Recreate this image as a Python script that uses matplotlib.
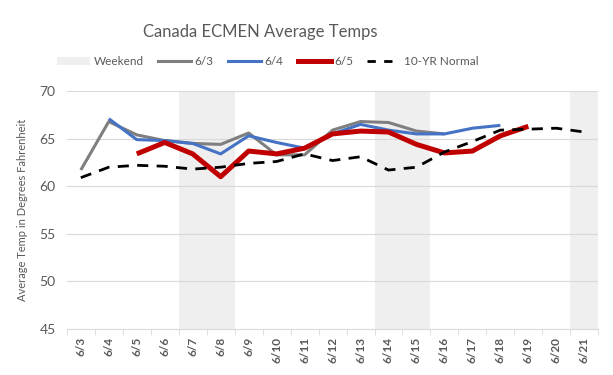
import matplotlib
matplotlib.use("Agg")
import matplotlib.pyplot as plt
from matplotlib.patches import Patch
from matplotlib.lines import Line2D
import numpy as np

plt.rcParams['font.family'] = ['Lato', 'DejaVu Sans']

dates = ["6/3", "6/4", "6/5", "6/6", "6/7", "6/8", "6/9", "6/10", "6/11", "6/12",
         "6/13", "6/14", "6/15", "6/16", "6/17", "6/18", "6/19", "6/20", "6/21"]
weekend = ["6/7", "6/8", "6/14", "6/15", "6/21"]

run_63 = [61.7, 66.8, 65.4, 64.8, 64.5, 64.4, 65.6, 63.3, 63.3, 65.9,
          66.8, 66.7, 65.8, 65.5, None, None, None, None, None]
run_64 = [None, 67.1, 64.9, 64.8, 64.5, 63.4, 65.3, 64.6, 64.0, 65.5,
          66.5, 65.9, 65.5, 65.5, 66.1, 66.4, None, None, None]
run_65 = [None, None, 63.4, 64.6, 63.4, 61.0, 63.7, 63.4, 64.0, 65.5,
          65.8, 65.7, 64.4, 63.5, 63.7, 65.3, 66.3, None, None]
normal = [60.9, 62.0, 62.2, 62.1, 61.8, 62.0, 62.4, 62.6, 63.4, 62.7,
          63.1, 61.7, 62.0, 63.6, 64.7, 65.9, 66.0, 66.1, 65.7]

def arr(v):
    return np.array([np.nan if x is None else x for x in v], dtype=float)

fig = plt.figure(figsize=(6.13, 3.75), dpi=100)
ax = fig.add_axes([0.109, 0.123, 0.867, 0.634])

x = np.arange(len(dates))
ymin, ymax = 45, 70
wk_idx = [dates.index(d) for d in weekend]
ax.bar(wk_idx, [ymax - ymin] * len(wk_idx), bottom=ymin, width=1.0,
       color="#efefef", zorder=0, linewidth=0)

for yv in [50, 55, 60, 65, 70]:
    ax.axhline(yv, color="#d9d9d9", lw=0.8, zorder=1)

ax.plot(x, arr(run_63), color="#7f7f7f", lw=2.2, zorder=3, solid_capstyle='butt')
ax.plot(x, arr(run_64), color="#4472c4", lw=2.2, zorder=4, solid_capstyle='butt')
ax.plot(x, arr(run_65), color="#c00000", lw=3.6, zorder=5, solid_capstyle='butt')
ax.plot(x, arr(normal), color="black", lw=2.0, dashes=(4, 3), zorder=6)

ax.set_xlim(-0.5, len(dates) - 0.5)
ax.set_ylim(ymin, ymax)
ax.set_yticks([45, 50, 55, 60, 65, 70])
ax.tick_params(axis='y', length=0, labelsize=10, labelcolor="#595959", pad=8)
ax.set_xticks(x)
ax.set_xticklabels(dates, rotation=90, fontsize=8.5, fontweight='bold', color="#595959")
ax.set_xticks(np.arange(-0.5, len(dates), 1), minor=True)
ax.tick_params(axis='x', which='major', length=0, pad=6)
ax.tick_params(axis='x', which='minor', length=4, color="#d9d9d9")

for s in ["top", "right", "left"]:
    ax.spines[s].set_visible(False)
ax.spines["bottom"].set_color("#d9d9d9")
ax.spines["bottom"].set_zorder(2)

ax.set_ylabel("Average Temp in Degrees Fahrenheit", fontsize=8, color="#595959", labelpad=8)

fig.text(0.425, 0.915, "Canada ECMEN Average Temps", ha='center', va='center',
         fontsize=12, color="#595959")

handles = [Patch(facecolor="#efefef", edgecolor="none"),
           Line2D([], [], color="#7f7f7f", lw=2.2),
           Line2D([], [], color="#4472c4", lw=2.2),
           Line2D([], [], color="#c00000", lw=3.6),
           Line2D([], [], color="black", lw=2.0, dashes=(3, 3))]
labels = ["Weekend", "6/3", "6/4", "6/5", "10-YR Normal"]
fig.legend(handles, labels, loc='center', bbox_to_anchor=(0.437, 0.835), ncol=5,
           frameon=False, fontsize=8.5, labelcolor="#595959", handlelength=2.8,
           columnspacing=1.2, handletextpad=0.3)

fig.savefig("out.png", dpi=100)
